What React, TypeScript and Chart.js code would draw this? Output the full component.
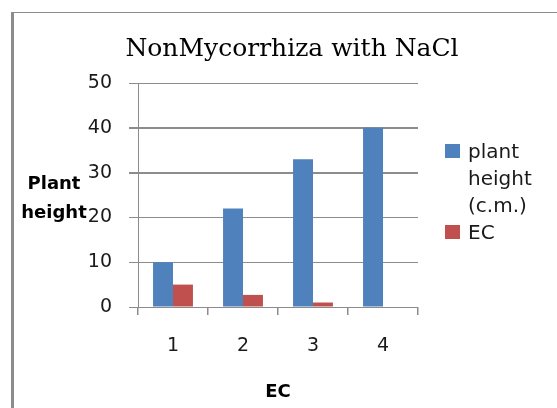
import React, { useEffect, useRef } from 'react';
import { Chart, registerables } from 'chart.js';

Chart.register(...registerables);

const categories = ['1', '2', '3', '4'];
const plantHeight = [10, 22, 33, 40];
const ecValues = [5, 2.7, 1, 0];
const seriesNames = ['plant height (c.m.)', 'EC'];
const legendLines = [['plant', 'height', '(c.m.)'], ['EC']];
const seriesColors = ['#4F81BD', '#C0504D'];
const yMin = 0;
const yMax = 50;
const yStep = 10;
const chartTitle = 'NonMycorrhiza with NaCl';
const yTitleLines = ['Plant', 'height'];
const xTitle = 'EC';

const GRID = '#8c8c8c';
const TEXT = '#1a1a1a';

const overlayPlugin = {
  id: 'overlay',
  afterDraw(chart: any) {
    const ctx = chart.ctx as CanvasRenderingContext2D;
    const ca = chart.chartArea;
    ctx.save();
    // Title
    ctx.fillStyle = '#000';
    ctx.font = '25px "DejaVu Serif"';
    ctx.textAlign = 'center';
    ctx.textBaseline = 'alphabetic';
    ctx.fillText(chartTitle, 292, 56);
    // Y axis title (horizontal, two lines)
    ctx.font = 'bold 18px "DejaVu Sans"';
    yTitleLines.forEach((t, i) => ctx.fillText(t, 54, 189 + i * 29));
    // Legend
    ctx.textAlign = 'left';
    ctx.font = '20px "DejaVu Sans"';
    let baseline = 158;
    chart.data.datasets.forEach((ds: any, i: number) => {
      ctx.fillStyle = ds.backgroundColor;
      ctx.fillRect(ca.right + 27, baseline - 14, 15, 14);
      ctx.fillStyle = TEXT;
      legendLines[i].forEach((line, j) => ctx.fillText(line, ca.right + 50, baseline + j * 27));
      baseline += legendLines[i].length * 27;
    });
    ctx.restore();
  },
};

export default function App() {
  const canvasRef = useRef<HTMLCanvasElement | null>(null);

  useEffect(() => {
    if (!canvasRef.current) return;
    const chart = new Chart(canvasRef.current, {
      type: 'bar',
      data: {
        labels: categories,
        datasets: [
          { label: seriesNames[0], data: plantHeight, backgroundColor: seriesColors[0], borderWidth: 0 },
          { label: seriesNames[1], data: ecValues, backgroundColor: seriesColors[1], borderWidth: 0 },
        ],
      },
      options: {
        animation: false,
        responsive: true,
        maintainAspectRatio: false,
        layout: { padding: { top: 83, right: 139, bottom: 0, left: 0 } },
        datasets: { bar: { categoryPercentage: 0.57, barPercentage: 1 } },
        plugins: {
          legend: { display: false },
          title: { display: false },
          tooltip: { enabled: false },
        },
        scales: {
          x: {
            grid: { drawOnChartArea: false, drawTicks: true, tickLength: 8, color: GRID, lineWidth: 1.5, offset: true },
            border: { display: true, color: GRID, width: 1 },
            ticks: { color: TEXT, font: { family: 'DejaVu Sans', size: 19 }, padding: 20 },
            title: {
              display: true,
              text: xTitle,
              color: '#000',
              font: { family: 'DejaVu Sans', size: 18, weight: 'bold' },
              padding: { top: 0, bottom: 5 },
            },
            afterFit: (s: any) => { s.height = 101; },
          },
          y: {
            min: yMin,
            max: yMax,
            ticks: { stepSize: yStep, padding: 17, color: TEXT, font: { family: 'DejaVu Sans', size: 19 } },
            grid: {
              color: GRID,
              lineWidth: (c: any) => (c.tick && (c.tick.value === 30 || c.tick.value === 40) ? 2 : 1),
              tickLength: 9,
            },
            border: { display: true, color: GRID, width: 1 },
            afterFit: (s: any) => { s.width = 138; },
          },
        },
      },
      plugins: [overlayPlugin],
    } as any);
    return () => chart.destroy();
  }, []);

  return (
    <div style={{ position: 'fixed', left: 0, top: 0, width: 557, height: 408, background: '#fff', overflow: 'hidden' }}>
      <canvas ref={canvasRef} />
      <div
        style={{
          position: 'absolute',
          left: 11,
          top: 12,
          right: -10,
          bottom: -10,
          borderLeft: '3px solid #8c8c8c',
          borderTop: '1px solid #8c8c8c',
          pointerEvents: 'none',
        }}
      />
    </div>
  );
}
